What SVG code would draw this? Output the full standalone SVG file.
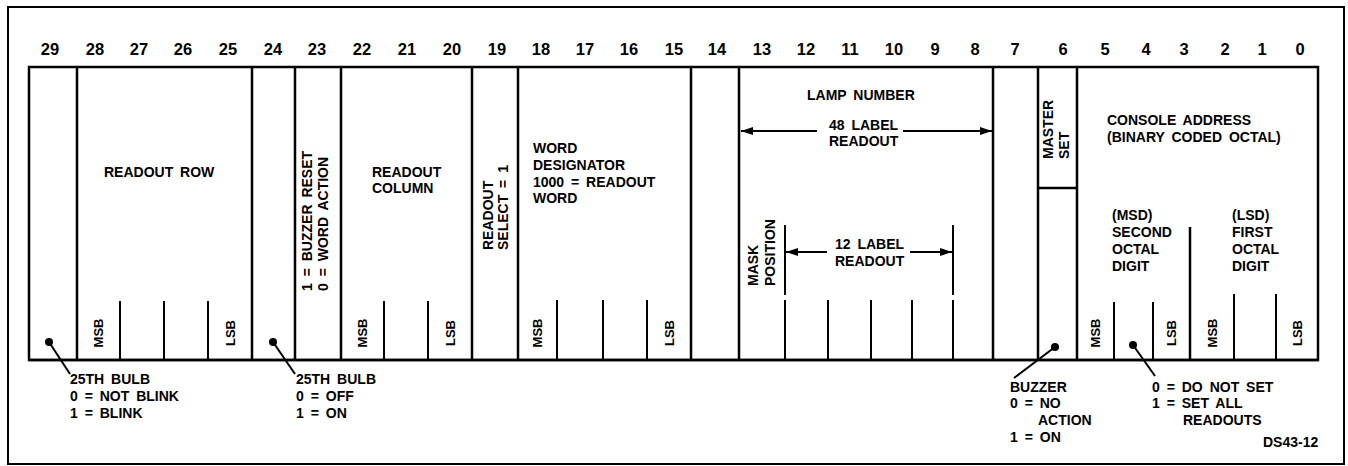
<svg xmlns="http://www.w3.org/2000/svg" width="1348" height="466" viewBox="0 0 1348 466">
<defs>
<style>
text{font-family:"Liberation Sans",Arial,sans-serif;font-weight:bold;fill:#000}
.num{font-size:16.5px;text-anchor:middle}
.lbl{font-size:14px;word-spacing:3px}
.sm{font-size:14px}
.bit{font-size:13px;text-anchor:middle;dominant-baseline:central}
.ln{stroke:#000;stroke-width:2.5;fill:none}
.tk{stroke:#000;stroke-width:2;fill:none}
.fr{stroke:#000;stroke-width:2;fill:none}
.ld{stroke:#000;stroke-width:2;fill:none}
</style>
<marker id="ah" viewBox="0 0 12 8" refX="12" refY="4" markerWidth="12" markerHeight="8" markerUnits="userSpaceOnUse" orient="auto">
<path d="M0,0 L12,4 L0,8 Z" fill="#000"/>
</marker>
</defs>
<rect width="1348" height="466" fill="#fff"/>
<rect class="fr" x="8" y="7" width="1336" height="457"/>

<g id="bit-numbers">
<text class="num" x="50" y="55">29</text>
<text class="num" x="95" y="55">28</text>
<text class="num" x="139" y="55">27</text>
<text class="num" x="183" y="55">26</text>
<text class="num" x="228" y="55">25</text>
<text class="num" x="273" y="55">24</text>
<text class="num" x="317" y="55">23</text>
<text class="num" x="362" y="55">22</text>
<text class="num" x="407" y="55">21</text>
<text class="num" x="452" y="55">20</text>
<text class="num" x="497" y="55">19</text>
<text class="num" x="541" y="55">18</text>
<text class="num" x="585" y="55">17</text>
<text class="num" x="629" y="55">16</text>
<text class="num" x="674" y="55">15</text>
<text class="num" x="717" y="55">14</text>
<text class="num" x="762" y="55">13</text>
<text class="num" x="806" y="55">12</text>
<text class="num" x="850" y="55">11</text>
<text class="num" x="894" y="55">10</text>
<text class="num" x="935" y="55">9</text>
<text class="num" x="975" y="55">8</text>
<text class="num" x="1015" y="55">7</text>
<text class="num" x="1063" y="55">6</text>
<text class="num" x="1105" y="55">5</text>
<text class="num" x="1146" y="55">4</text>
<text class="num" x="1184" y="55">3</text>
<text class="num" x="1225" y="55">2</text>
<text class="num" x="1262" y="55">1</text>
<text class="num" x="1300" y="55">0</text>
</g>

<g id="word-frame">
<rect class="ln" x="29" y="67" width="1289" height="293"/>
<line class="ln" x1="29" y1="360" x2="1318" y2="360" stroke-width="3"/>
</g>

<g id="bit29">
<line class="ln" x1="77" y1="67" x2="77" y2="360"/>
</g>

<g id="readout-row">
<text class="lbl" x="104" y="177">READOUT ROW</text>
<line class="tk" x1="120" y1="301" x2="120" y2="360"/>
<line class="tk" x1="164" y1="301" x2="164" y2="360"/>
<line class="tk" x1="208" y1="301" x2="208" y2="360"/>
<text class="bit" transform="translate(98.5,333) rotate(-90)">MSB</text>
<text class="bit" transform="translate(230,333) rotate(-90)">LSB</text>
<line class="ln" x1="252" y1="67" x2="252" y2="360"/>
</g>

<g id="bit24">
<line class="ln" x1="295" y1="67" x2="295" y2="360"/>
</g>

<g id="bit23">
<text class="lbl" transform="translate(312,291) rotate(-90)">1 = BUZZER RESET</text>
<text class="lbl" transform="translate(328,291) rotate(-90)">0 = WORD ACTION</text>
<line class="ln" x1="341" y1="67" x2="341" y2="360"/>
</g>

<g id="readout-column">
<text class="lbl" x="372" y="177">READOUT</text>
<text class="lbl" x="372" y="193">COLUMN</text>
<line class="tk" x1="384" y1="301" x2="384" y2="360"/>
<line class="tk" x1="428" y1="301" x2="428" y2="360"/>
<text class="bit" transform="translate(362.5,333) rotate(-90)">MSB</text>
<text class="bit" transform="translate(450,333) rotate(-90)">LSB</text>
<line class="ln" x1="472" y1="67" x2="472" y2="360"/>
</g>

<g id="readout-select">
<text class="lbl" transform="translate(493,250) rotate(-90)">READOUT</text>
<text class="lbl" transform="translate(508,250) rotate(-90)">SELECT = 1</text>
<line class="ln" x1="518" y1="67" x2="518" y2="360"/>
</g>

<g id="word-designator">
<text class="lbl" x="533" y="153">WORD</text>
<text class="lbl" x="533" y="170">DESIGNATOR</text>
<text class="lbl" x="533" y="187">1000 = READOUT</text>
<text class="lbl" x="533" y="203">WORD</text>
<line class="tk" x1="557" y1="300" x2="557" y2="360"/>
<line class="tk" x1="603" y1="300" x2="603" y2="360"/>
<line class="tk" x1="647" y1="300" x2="647" y2="360"/>
<text class="bit" transform="translate(537.5,333) rotate(-90)">MSB</text>
<text class="bit" transform="translate(669,333) rotate(-90)">LSB</text>
<line class="ln" x1="691" y1="67" x2="691" y2="360"/>
</g>

<g id="bit14">
<line class="ln" x1="739" y1="67" x2="739" y2="360"/>
</g>

<g id="lamp-number">
<text class="lbl" x="807" y="100">LAMP NUMBER</text>
<text class="lbl" x="829" y="130">48 LABEL</text>
<text class="lbl" x="829" y="146">READOUT</text>
<text class="lbl" transform="translate(758,286) rotate(-90)">MASK</text>
<text class="lbl" transform="translate(775,286) rotate(-90)">POSITION</text>
<line class="tk" x1="785" y1="225" x2="785" y2="295"/>
<line class="tk" x1="953" y1="225" x2="953" y2="295"/>
<text class="lbl" x="835" y="249">12 LABEL</text>
<text class="lbl" x="835" y="266">READOUT</text>
<line class="tk" x1="785" y1="300" x2="785" y2="360"/>
<line class="tk" x1="828" y1="300" x2="828" y2="360"/>
<line class="tk" x1="871" y1="300" x2="871" y2="360"/>
<line class="tk" x1="912" y1="300" x2="912" y2="360"/>
<line class="tk" x1="953" y1="300" x2="953" y2="360"/>
<line class="ln" x1="993" y1="67" x2="993" y2="360"/>
</g>

<g id="bit7">
<line class="ln" x1="1038" y1="67" x2="1038" y2="360"/>
</g>

<g id="master-set">
<text class="lbl" transform="translate(1053,159) rotate(-90)">MASTER</text>
<text class="lbl" transform="translate(1069,159) rotate(-90)">SET</text>
<line class="ln" x1="1038" y1="188" x2="1077" y2="188"/>
<line class="ln" x1="1077" y1="67" x2="1077" y2="360"/>
</g>

<g id="console-address">
<text class="lbl" x="1107" y="125">CONSOLE ADDRESS</text>
<text class="lbl" x="1107" y="142">(BINARY CODED OCTAL)</text>
<text class="lbl" x="1112" y="220">(MSD)</text>
<text class="lbl" x="1112" y="237">SECOND</text>
<text class="lbl" x="1112" y="254">OCTAL</text>
<text class="lbl" x="1112" y="271">DIGIT</text>
<text class="lbl" x="1232" y="220">(LSD)</text>
<text class="lbl" x="1232" y="237">FIRST</text>
<text class="lbl" x="1232" y="254">OCTAL</text>
<text class="lbl" x="1232" y="271">DIGIT</text>
<line class="tk" x1="1114" y1="302" x2="1114" y2="360"/>
<line class="tk" x1="1153" y1="302" x2="1153" y2="360"/>
<line class="ln" x1="1190" y1="227" x2="1190" y2="360"/>
<line class="tk" x1="1234" y1="294" x2="1234" y2="360"/>
<line class="tk" x1="1276" y1="294" x2="1276" y2="360"/>
<text class="bit" transform="translate(1095.5,333) rotate(-90)">MSB</text>
<text class="bit" transform="translate(1171.5,333) rotate(-90)">LSB</text>
<text class="bit" transform="translate(1212,333) rotate(-90)">MSB</text>
<text class="bit" transform="translate(1297,333) rotate(-90)">LSB</text>
</g>

<g id="note-bit29">
<text class="lbl" x="70" y="384">25TH BULB</text>
<text class="lbl" x="70" y="401">0 = NOT BLINK</text>
<text class="lbl" x="70" y="418">1 = BLINK</text>
</g>
<g id="note-bit24">
<text class="lbl" x="296" y="384">25TH BULB</text>
<text class="lbl" x="296" y="401">0 = OFF</text>
<text class="lbl" x="296" y="418">1 = ON</text>
</g>
<g id="note-buzzer">
<text class="lbl" x="1010" y="392">BUZZER</text>
<text class="lbl" x="1010" y="408">0 = NO</text>
<text class="lbl" x="1038" y="425">ACTION</text>
<text class="lbl" x="1010" y="442">1 = ON</text>
</g>
<g id="note-set">
<text class="lbl" x="1152" y="392">0 = DO NOT SET</text>
<text class="lbl" x="1152" y="408">1 = SET ALL</text>
<text class="lbl" x="1183" y="425">READOUTS</text>
</g>
<g id="figure-id">
<text class="sm" x="1263" y="447">DS43-12</text>
</g>

<g id="connectors">
<line class="ld" x1="817" y1="131" x2="741" y2="131" marker-end="url(#ah)"/>
<line class="ld" x1="903" y1="131" x2="992" y2="131" marker-end="url(#ah)"/>
<line class="ld" x1="827" y1="252" x2="786" y2="252" marker-end="url(#ah)"/>
<line class="ld" x1="910" y1="252" x2="952" y2="252" marker-end="url(#ah)"/>
<circle cx="49" cy="342" r="4"/>
<line class="ld" x1="49" y1="342" x2="70" y2="374"/>
<circle cx="273" cy="342" r="4"/>
<line class="ld" x1="273" y1="342" x2="295" y2="374"/>
<circle cx="1055" cy="347" r="4"/>
<line class="ld" x1="1055" y1="347" x2="1014" y2="378"/>
<circle cx="1133" cy="345" r="4"/>
<line class="ld" x1="1133" y1="345" x2="1155" y2="376"/>
</g>
</svg>
